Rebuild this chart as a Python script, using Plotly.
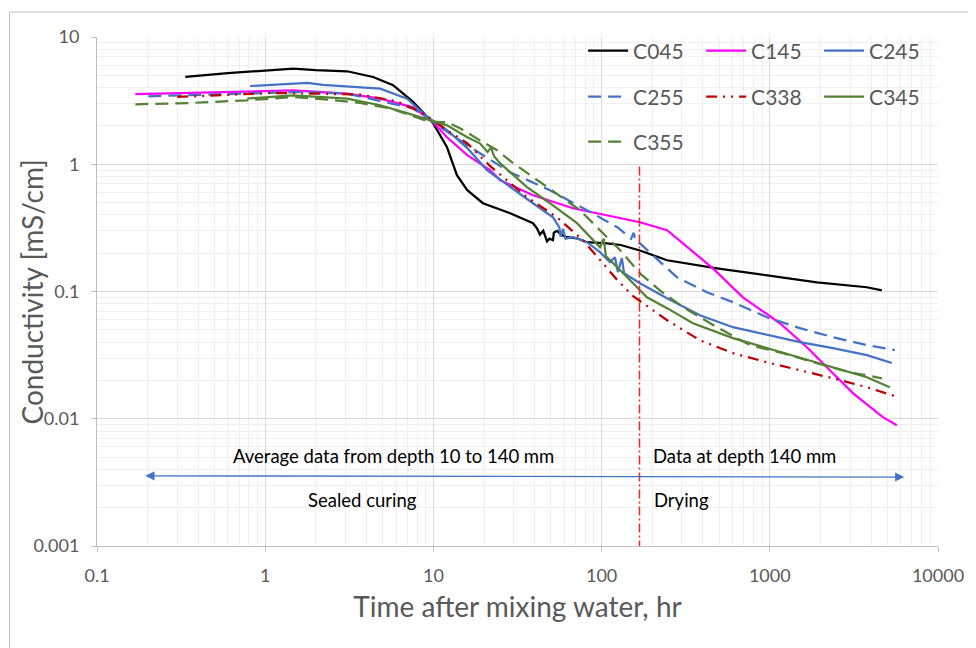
import math
import plotly.graph_objects as go

# ---------------- data ----------------
c045_x = [0.335, 0.6, 1.0, 1.47, 2.0, 3.07, 4.38, 5.76, 7.57, 9.96, 12.05, 13.8, 15.9, 19.7, 28.6,
          39.1, 41.3, 43.0, 45.0, 47.4, 49.0, 51.4, 52.0, 54.3, 58.2, 62.3, 71.4, 81.9, 107.7, 130,
          169, 245, 485, 961, 1905, 3776, 4636]
c045_y = [4.85, 5.2, 5.45, 5.65, 5.5, 5.38, 4.85, 4.18, 3.09, 2.1, 1.36, 0.82, 0.625, 0.494, 0.412,
          0.344, 0.314, 0.28, 0.30, 0.248, 0.26, 0.253, 0.29, 0.30, 0.277, 0.267, 0.262, 0.244, 0.239, 0.232,
          0.21, 0.176, 0.152, 0.134, 0.118, 0.108, 0.102]

c145_x = [0.169, 1.47, 3.07, 4.82, 7.57, 9.96, 12.05, 15.9, 21.7, 24.9, 39.1, 67.6, 169, 245, 459,
          692, 1148, 1661, 2371, 3118, 4699, 5690]
c145_y = [3.55, 3.81, 3.59, 3.28, 2.80, 2.14, 1.63, 1.18, 0.90, 0.75, 0.571, 0.451, 0.350, 0.303, 0.152,
          0.090, 0.0563, 0.0365, 0.0228, 0.0159, 0.0103, 0.0089]

c245_x = [0.814, 1.78, 2.2, 4.82, 6.98, 9.18, 12.05, 15.9, 20.8, 28.6, 39.1, 51.4, 56, 57, 59, 61, 67.6,
          81.9, 97.8, 112, 120, 125, 132, 136, 169, 245, 384, 604, 961, 1510, 2371, 3776, 5312]
c245_y = [4.12, 4.35, 4.2, 3.93, 3.28, 2.35, 1.85, 1.34, 0.90, 0.66, 0.494, 0.383, 0.32, 0.27, 0.31, 0.26, 0.267,
          0.244, 0.204, 0.170, 0.186, 0.142, 0.183, 0.139, 0.116, 0.0886, 0.065, 0.0524, 0.0454, 0.040, 0.0359,
          0.0316, 0.0274]

c255_x = [0.202, 0.849, 1.61, 3.07, 5.76, 7.57, 9.96, 15.9, 28.6, 49.3, 81.9, 124, 150, 155, 160, 169,
          281, 423, 604, 961, 1510, 2371, 3776, 5535]
c255_y = [3.42, 3.63, 3.70, 3.59, 3.01, 2.75, 2.14, 1.41, 0.865, 0.625, 0.435, 0.32, 0.26, 0.29, 0.245, 0.239,
          0.129, 0.0987, 0.0824, 0.0628, 0.0515, 0.0438, 0.0379, 0.0346]

c338_x = [0.30, 1.12, 1.93, 3.67, 6.09, 8.34, 9.96, 12.05, 15.9, 21.7, 36.0, 54.3, 77.5, 97.8, 124, 154,
          245, 384, 604, 961, 1510, 2371, 3776, 5770]
c338_y = [3.38, 3.63, 3.59, 3.53, 3.12, 2.58, 2.22, 1.85, 1.46, 0.97, 0.551, 0.383, 0.253, 0.176, 0.123, 0.0918,
          0.0595, 0.0414, 0.0328, 0.0278, 0.0241, 0.0208, 0.0177, 0.0148]

c345_x = [0.782, 1.47, 3.07, 4.82, 6.98, 9.56, 12.05, 15.9, 18.9, 21, 22, 23, 24.9, 36.0, 49.3, 71.4, 97.8,
          103, 106, 129, 186, 245, 349, 604, 961, 1510, 2371, 3776, 5170]
c345_y = [3.28, 3.48, 3.28, 2.91, 2.52, 2.22, 2.02, 1.63, 1.46, 1.25, 1.35, 1.15, 1.02, 0.66, 0.494, 0.344, 0.223,
          0.26, 0.19, 0.147, 0.090, 0.074, 0.0563, 0.043, 0.0359, 0.0305, 0.0254, 0.0212, 0.0177]

c355_x = [0.169, 0.358, 0.782, 1.47, 2.34, 3.67, 5.53, 7.27, 9.56, 12.05, 14.4, 18.9, 23.9, 29.8, 47.4, 74.5,
          97.8, 129, 169, 222, 305, 485, 762, 1196, 1905, 2992, 4636]
c355_y = [2.96, 3.03, 3.18, 3.38, 3.22, 3.03, 2.75, 2.43, 2.15, 2.14, 1.92, 1.54, 1.29, 1.02, 0.66, 0.435,
          0.303, 0.211, 0.139, 0.102, 0.0753, 0.0524, 0.0379, 0.0328, 0.0273, 0.0232, 0.0208]

drying_start_hr = 168
x_tickvals = [0.1, 1, 10, 100, 1000, 10000]
x_ticktext = ["0.1", "1", "10", "100", "1000", "10000"]
y_tickvals = [0.001, 0.01, 0.1, 1, 10]
y_ticktext = ["0.001", "0.01", "0.1", "1", "10"]

FONT = "Lato"
GREY = "#595959"

series = [
    ("C045", c045_x, c045_y, "#000000", "solid", "legend"),
    ("C145", c145_x, c145_y, "#FF00FF", "solid", "legend"),
    ("C245", c245_x, c245_y, "#4472C4", "solid", "legend"),
    ("C255", c255_x, c255_y, "#4472C4", "13px,7px", "legend2"),
    ("C338", c338_x, c338_y, "#C00000", "11px,6px,2px,6px,2px,6px", "legend2"),
    ("C345", c345_x, c345_y, "#548235", "solid", "legend2"),
    ("C355", c355_x, c355_y, "#548235", "13px,7px", "legend3"),
]

fig = go.Figure()
for name, xs, ys, col, dash, lg in series:
    fig.add_trace(go.Scatter(x=xs, y=ys, mode="lines", name=name, legend=lg,
                             line=dict(color=col, width=2.25, dash=dash)))

# vertical boundary sealed curing / drying
fig.add_trace(go.Scatter(x=[drying_start_hr, drying_start_hr], y=[0.96, 0.001], mode="lines",
                         showlegend=False, hoverinfo="skip",
                         line=dict(color="#FF2020", width=1.5, dash="9px,3px,2px,3px")))

axis_common = dict(type="log", showline=True, linecolor="#BFBFBF", linewidth=1,
                   ticks="outside", ticklen=5, tickcolor="#BFBFBF",
                   gridcolor="#D9D9D9", gridwidth=1, zeroline=False, automargin=False,
                   tickfont=dict(family=FONT, size=18, color=GREY), ticklabelstandoff=8,
                   minor=dict(dtick="D1", showgrid=True, gridcolor="#F0F0F0", gridwidth=1, ticks=""))

fig.update_xaxes(range=[-1, 4], tickmode="array", tickvals=x_tickvals, ticktext=x_ticktext,
                 title=dict(text="Time after mixing water, hr", font=dict(family=FONT, size=28, color=GREY),
                            standoff=12),
                 **axis_common)
fig.update_yaxes(range=[-3, 1], tickmode="array", tickvals=y_tickvals, ticktext=y_ticktext,
                 **axis_common)

leg_common = dict(orientation="h", xanchor="left", yanchor="middle", entrywidth=63,
                  entrywidthmode="pixels", bgcolor="rgba(0,0,0,0)",
                  font=dict(family=FONT, size=21, color=GREY), itemwidth=40)
L = math.log10

fig.update_layout(
    width=968, height=640,
    margin=dict(l=89, r=38, t=29, b=102, autoexpand=False),
    paper_bgcolor="white", plot_bgcolor="white",
    legend=dict(x=0.578, y=0.9725, **leg_common),
    legend2=dict(x=0.578, y=0.882, **leg_common),
    legend3=dict(x=0.578, y=0.794, **leg_common),
    shapes=[dict(type="rect", xref="paper", yref="paper", x0=-0.104, x1=1.06, y0=-0.23, y1=1.049,
                 line=dict(color="#BFBFBF", width=1), fillcolor="rgba(0,0,0,0)", layer="below")],
    annotations=[
        dict(x=-0.0773, y=0.5, xref="paper", yref="paper", xanchor="center", yanchor="middle",
             showarrow=False, textangle=-90,
             text="Conductivity [mS/cm]", font=dict(family=FONT, size=28, color=GREY)),
        dict(x=L(6300), y=L(0.00348), ax=L(0.19), ay=L(0.00356), xref="x", yref="y", axref="x", ayref="y",
             text="", showarrow=True, arrowhead=2, startarrowhead=2, arrowside="end+start",
             arrowsize=1.4, startarrowsize=1.4, arrowwidth=1.3, arrowcolor="#4472C4"),
        dict(x=L(5.76), y=L(0.00508), xref="x", yref="y", showarrow=False,
             text="Average data from depth 10 to 140 mm", font=dict(family=FONT, size=18.5, color="black")),
        dict(x=L(711), y=L(0.00508), xref="x", yref="y", showarrow=False,
             text="Data at depth 140 mm", font=dict(family=FONT, size=18.5, color="black")),
        dict(x=L(3.77), y=L(0.0023), xref="x", yref="y", showarrow=False,
             text="Sealed curing", font=dict(family=FONT, size=18.5, color="black")),
        dict(x=L(300), y=L(0.0023), xref="x", yref="y", showarrow=False,
             text="Drying", font=dict(family=FONT, size=18.5, color="black")),
    ],
)

fig.write_html("out.html")
